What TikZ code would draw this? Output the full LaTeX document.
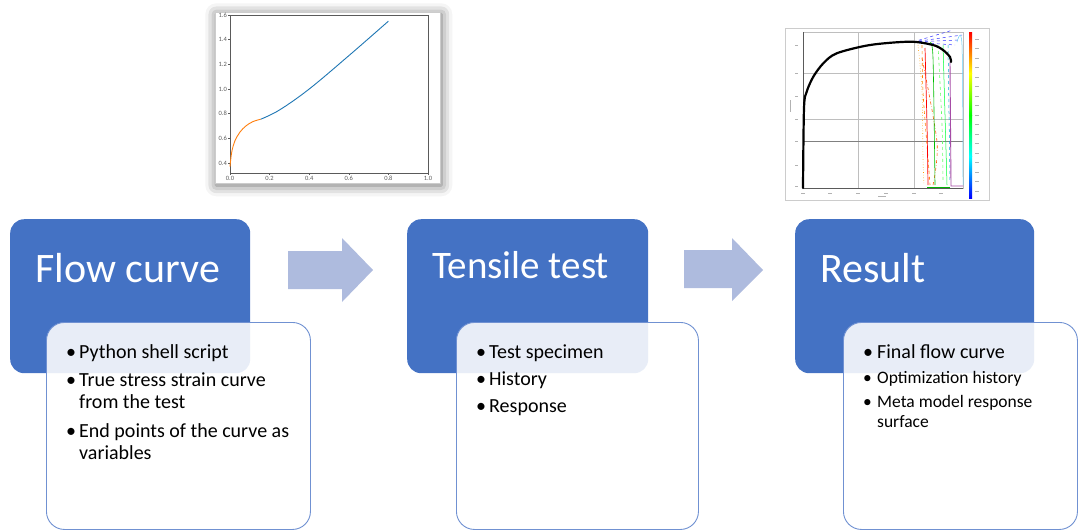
\documentclass[tikz,border=0pt]{standalone}
\usepackage{fontspec}
\setmainfont{Carlito}
\usetikzlibrary{shadows.blur}
\definecolor{boxblue}{RGB}{68,114,196}
\definecolor{edgeblue}{RGB}{112,145,210}
\definecolor{arrowc}{RGB}{174,187,222}
\definecolor{mplblue}{RGB}{31,119,180}
\definecolor{mplorange}{RGB}{255,127,14}
\definecolor{axgray}{RGB}{90,90,90}
\definecolor{gridgray}{RGB}{190,190,190}
\begin{document}
\begin{tikzpicture}[x=1pt,y=-1pt,
  titlebox/.style={fill=boxblue, draw=none, rounded corners=14pt, inner sep=0pt, anchor=north west, minimum height=154pt},
  listbox/.style={fill=white, fill opacity=0.88, draw=edgeblue, line width=0.9pt, rounded corners=18pt, inner sep=0pt, anchor=north west, minimum height=207pt},
  titletext/.style={text=white, inner sep=0pt, anchor=base west},
  item/.style={inner sep=0pt, anchor=base west, font=\fontsize{20}{22}\selectfont},
  smallitem/.style={inner sep=0pt, anchor=base west, font=\fontsize{17.5}{20}\selectfont},
  bigarrow/.style={fill=arrowc, draw=none},
  ticklab/.style={inner sep=0pt, text=axgray, font=\fontsize{6.5}{7}\selectfont},
]
\useasboundingbox (0,0) rectangle (1078,531);

% ---------- plot 1 ----------
\node[fill=white, draw=gray!40, line width=0.6pt, anchor=north west, inner sep=0pt,
      minimum width=225pt, minimum height=171pt,
      blur shadow={shadow xshift=1pt, shadow yshift=-2pt, shadow blur radius=11pt, shadow opacity=60}] (p1) at (215,12) {};
\draw[axgray, line width=0.6pt] (230,15) rectangle (428,173);
\foreach \u/\l in {0/0.0,1/0.2,2/0.4,3/0.6,4/0.8,5/1.0}{
  \draw[axgray, line width=0.5pt] ({230+\u*39.6},173) -- ({230+\u*39.6},175);
  \node[ticklab, anchor=north] at ({230+\u*39.6},176) {\l};
}
\foreach \v/\l in {0/0.4,1/0.6,2/0.8,3/1.0,4/1.2,5/1.4,6/1.6}{
  \draw[axgray, line width=0.5pt] (230,{163-\v*24.667}) -- (228,{163-\v*24.667});
  \node[ticklab, anchor=east] at (227,{163-\v*24.667}) {\l};
}
\begin{scope}[shift={(230,163)}, x=198pt, y=123.33pt]
  \draw[mplorange, line width=0.9pt] plot[smooth, tension=0.6] coordinates
    {(0,-0.03) (0.003,0.02) (0.01,0.1) (0.025,0.18) (0.05,0.25) (0.08,0.30) (0.115,0.335) (0.155,0.355)};
  \draw[mplblue, line width=0.9pt] plot[smooth, tension=0.6] coordinates
    {(0.155,0.355) (0.25,0.43) (0.4,0.6) (0.6,0.87) (0.8,1.15)};
\end{scope}

% ---------- plot 2 ----------
\node[fill=white, draw=gray!40, line width=0.6pt, anchor=north west, inner sep=0pt,
      minimum width=204pt, minimum height=172pt] (p2) at (785,28) {};
\draw[gridgray, line width=0.5pt] (858,32) -- (858,188) (914,32) -- (914,188)
      (803,73) -- (963,73) (803,119) -- (963,119);
\draw[gray, line width=0.5pt] (803,141) -- (963,141);
\draw[gridgray, line width=0.5pt] (803,32) rectangle (963,188);
\draw[axgray, line width=0.6pt] (803,32) -- (803,188) -- (963,188);
\foreach \y in {45,73,96,119,141,165,186}{\draw[gray!60, line width=0.4pt] (795,\y) -- (798,\y);}
\foreach \x in {803,830,858,886,914,941}{\draw[gray!60, line width=0.4pt] (\x-2,193) -- (\x+2,193);}
\draw[gray!60, line width=0.4pt] (790,100) -- (790,112);
\draw[gray!60, line width=0.4pt] (878,196) -- (886,196);
% coloured curves
\draw[blue!80, dashed, line width=0.5pt] (913,42) -- (953,30) (913,42) -- (962,35) (913,42) -- (960,40) (913,42) -- (955,45);
\draw[orange!80!yellow, dotted, line width=0.6pt] plot[smooth] coordinates {(918,45) (922,92) (923,158) (924,185)};
\draw[orange, dashed, line width=0.6pt] plot[smooth] coordinates {(922,45) (923,92) (928,158) (930,185)};
\draw[orange!70!red, dash dot, line width=0.6pt] plot[smooth] coordinates {(922,58) (937,142) (933,185)};
\draw[red, line width=0.7pt] plot[smooth] coordinates {(925,48) (927,125) (928,185)};
\draw[green!75!black, line width=0.6pt] plot[smooth] coordinates {(930,43) (933,58) (935,185)};
\draw[green!60, dashed, line width=0.6pt] plot[smooth] coordinates {(938,45) (942,125) (943,182)};
\draw[green!80!cyan, line width=0.5pt] plot[smooth] coordinates {(943,45) (947,185)};
\draw[cyan!80!green, dashed, line width=0.5pt] plot[smooth] coordinates {(948,45) (950,182)};
\draw[cyan!60, line width=0.5pt] plot[smooth] coordinates {(957,42) (962,45) (963,185)};
\draw[violet!70, line width=0.9pt] (950,62) -- (951,186) -- (963,186);
\draw[green!70!black, line width=0.7pt] (927,187) -- (950,187);
\draw[black, line width=2.2pt, line cap=round] plot[smooth, tension=0.5] coordinates
  {(803,188) (804,108) (806.7,91.7) (813.3,76.7) (823.3,63.3) (836.7,53.3) (870,45) (910,41.7) (933,45) (943,50) (950,57) (951,62)};
% colour bar
\shade[top color=red, bottom color=yellow] (969,32) rectangle (972,73.5);
\shade[top color=yellow, bottom color=green] (969,73.5) rectangle (972,115);
\shade[top color=green, bottom color=cyan] (969,115) rectangle (972,156.5);
\shade[top color=cyan, bottom color=blue] (969,156.5) rectangle (972,198);
\foreach \y in {39,48,58,67,77,86,96,105,115,124,134,143,153,162,172,181,191}{\draw[gray!60, line width=0.4pt] (975,\y) -- (979,\y);}

% ---------- arrows ----------
\fill[bigarrow] (288,251) -- (342,251) -- (342,238) -- (373,270) -- (342,302) -- (342,289) -- (288,289) -- cycle;
\fill[bigarrow] (684,250) -- (732,250) -- (732,238) -- (763,270) -- (732,301) -- (732,288) -- (684,288) -- cycle;

% ---------- boxes ----------
\node[titlebox, minimum width=240pt] (t1) at (10,219) {};
\node[titlebox, minimum width=241pt] (t2) at (407,219) {};
\node[titlebox, minimum width=239pt] (t3) at (795,219) {};
\node[listbox, minimum width=264pt] (l1) at (46,322) {};
\node[listbox, minimum width=242pt] (l2) at (456,322) {};
\node[listbox, minimum width=234pt] (l3) at (843,322) {};

% ---------- titles ----------
\node[titletext, font=\fontsize{42}{46}\selectfont] (h1) at (35,282) {Flow curve};
\node[titletext, font=\fontsize{39}{44}\selectfont] (h2) at (432,278) {Tensile test};
\node[titletext, font=\fontsize{42}{46}\selectfont] (h3) at (820,282) {Result};

% ---------- bullet lists ----------
\node[item] (a1) at (66,358) {\makebox[13pt][l]{•}Python shell script};
\node[item] (a2) at (66,386) {\makebox[13pt][l]{•}True stress strain curve};
\node[item] (a2b) at (79,408) {from the test};
\node[item] (a3) at (66,437) {\makebox[13pt][l]{•}End points of the curve as};
\node[item] (a3b) at (79,459) {variables};

\node[item] (b1) at (476,358) {\makebox[13pt][l]{•}Test specimen};
\node[item] (b2) at (476,385) {\makebox[13pt][l]{•}History};
\node[item] (b3) at (476,412) {\makebox[13pt][l]{•}Response};

\node[item] (c1) at (863,358) {\makebox[14pt][l]{•}Final flow curve};
\node[smallitem] (c2) at (863,383) {\makebox[14pt][l]{•}Optimization history};
\node[smallitem] (c3) at (863,407) {\makebox[14pt][l]{•}Meta model response};
\node[smallitem] (c3b) at (877,427) {surface};
\end{tikzpicture}
\end{document}
